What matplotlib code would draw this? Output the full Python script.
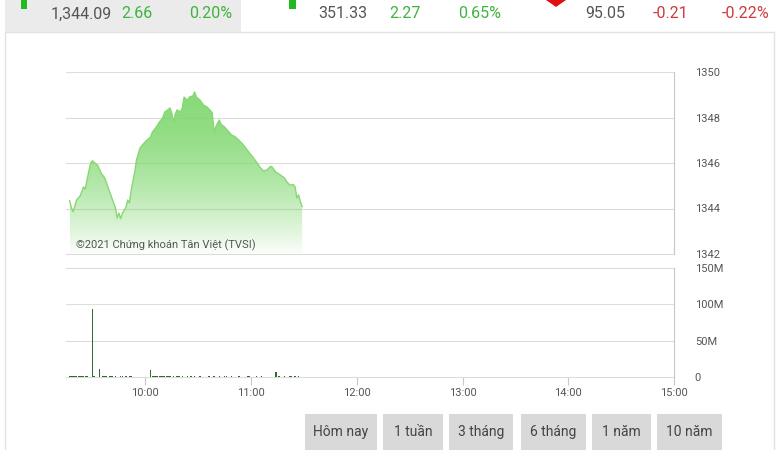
import matplotlib
matplotlib.use("Agg")
import matplotlib.pyplot as plt
import numpy as np
from matplotlib import font_manager
from matplotlib.patches import Rectangle, Polygon

# pick a narrow font if there is one
try:
    font_manager.findfont("Liberation Sans Narrow", fallback_to_default=False)
    NARROW = "Liberation Sans Narrow"
except ValueError:
    NARROW = "Roboto"
plt.rcParams["font.family"] = [NARROW, "DejaVu Sans"]

# index price, morning session
price_times = ["09:17", "09:18", "09:19", "09:20", "09:21", "09:23", "09:25", "09:26", "09:27", "09:29",
               "09:30", "09:32", "09:33", "09:35", "09:37", "09:39", "09:40", "09:42", "09:43", "09:44",
               "09:45", "09:46", "09:47", "09:49", "09:50", "09:51", "09:52", "09:54", "09:55", "09:57",
               "09:59", "10:01", "10:03", "10:04", "10:06", "10:08", "10:10", "10:11", "10:13", "10:14",
               "10:15", "10:16", "10:17", "10:18", "10:20", "10:21", "10:22", "10:24", "10:25", "10:27",
               "10:28", "10:29", "10:31", "10:33", "10:35", "10:37", "10:38", "10:39", "10:40", "10:42",
               "10:43", "10:45", "10:47", "10:49", "10:51", "10:53", "10:55", "10:57", "10:59", "11:01",
               "11:03", "11:05", "11:07", "11:09", "11:11", "11:12", "11:14", "11:15", "11:17", "11:19",
               "11:20", "11:22", "11:24", "11:25", "11:26", "11:27", "11:28", "11:29"]
prices = [1344.35, 1344.05, 1343.86, 1344.10, 1344.37, 1344.55, 1344.95, 1344.85, 1345.30, 1346.00,
          1346.10, 1345.95, 1345.90, 1345.55, 1345.34, 1344.90, 1344.68, 1344.25, 1344.05, 1343.58,
          1343.80, 1343.55, 1343.80, 1344.05, 1344.37, 1344.25, 1344.81, 1345.60, 1346.13, 1346.66,
          1346.85, 1347.01, 1347.15, 1347.36, 1347.55, 1347.80, 1348.00, 1348.24, 1348.35, 1348.42,
          1348.20, 1347.80, 1348.15, 1348.33, 1348.25, 1348.42, 1348.90, 1348.75, 1348.90, 1348.95,
          1349.12, 1348.90, 1348.77, 1348.55, 1348.46, 1348.30, 1348.20, 1347.36, 1347.60, 1347.89,
          1347.70, 1347.58, 1347.40, 1347.23, 1347.15, 1347.01, 1346.85, 1346.66, 1346.45, 1346.26,
          1346.05, 1345.82, 1345.65, 1345.69, 1345.85, 1345.82, 1345.60, 1345.56, 1345.45, 1345.34,
          1345.20, 1345.03, 1345.05, 1344.95, 1344.46, 1344.60, 1344.30, 1344.09]

# volume in millions
vol_times = ["09:17", "09:18", "09:19", "09:20", "09:21", "09:22", "09:23", "09:24", "09:25", "09:26", "09:27",
             "09:30", "09:31", "09:34",
             "09:36", "09:37", "09:38", "09:40", "09:41", "09:43", "09:46", "09:47", "09:49", "09:51", "09:52",
             "10:03",
             "10:04", "10:05", "10:06", "10:07", "10:08", "10:09", "10:10", "10:11", "10:12", "10:13", "10:14",
             "10:16", "10:18", "10:19", "10:21", "10:24", "10:26", "10:28", "10:31", "10:36", "10:39",
             "10:42", "10:45", "10:46", "10:49", "10:53", "10:58", "10:59", "11:03", "11:06",
             "11:14",
             "11:16", "11:19", "11:22", "11:23", "11:25", "11:27"]
volumes = [1.5, 1.5, 1.5, 1.5, 1.5, 1.5, 1.5, 1.5, 1.5, 1.5, 1.5,
           93.5, 2.0, 11.0,
           1.0, 1.0, 1.0, 1.0, 1.0, 1.2, 1.0, 1.0, 1.0, 1.0, 1.0,
           10.0,
           1.2, 1.2, 1.2, 1.2, 1.2, 1.2, 1.2, 1.2, 1.2, 1.2, 1.2,
           1.0, 1.0, 1.0, 1.0, 1.0, 1.0, 1.0, 1.5, 1.5, 1.0,
           1.0, 1.0, 1.0, 1.0, 1.0, 1.0, 1.0, 1.5, 1.5,
           7.2,
           1.0, 1.0, 1.5, 1.0, 1.0, 1.0]

price_ticks = [1342, 1344, 1346, 1348, 1350]
vol_ticks = [0, 50, 100, 150]
vol_labels = ["0", "50M", "100M", "150M"]
hour_labels = ["10:00", "11:00", "12:00", "13:00", "14:00", "15:00"]

# header quotes: (text, centre x, colour)
quotes = [("1,344.09", 81, "#555555"), ("2.66", 137, "#3db53d"), ("0.20%", 211, "#3db53d"),
          ("351.33", 343, "#555555"), ("2.27", 405, "#3db53d"), ("0.65%", 480, "#3db53d"),
          ("95.05", 605, "#555555"), ("-0.21", 671, "#d03a3a"), ("-0.22%", 746, "#d03a3a")]
buttons = ["Hôm nay", "1 tuần", "3 tháng", "6 tháng", "1 năm", "10 năm"]
button_x = [(305, 377), (383, 443), (449, 513), (521, 586), (592, 651), (657, 722)]


def to_min(s):
    h, m = s.split(":")
    return (int(h) - 9) * 60 + int(m)


W, H = 780, 450


def box(x0, y0, x1, y1):
    return [x0 / W, 1 - y1 / H, (x1 - x0) / W, (y1 - y0) / H]


fig = plt.figure(figsize=(7.8, 4.5), dpi=100)

# page background: panel, header strip, icons, buttons
bg = fig.add_axes([0, 0, 1, 1])
bg.set_xlim(0, W)
bg.set_ylim(H, 0)
bg.axis("off")
bg.add_patch(Rectangle((5, 31.5), 769, 440, fc="white", ec="#e2e2e2", lw=1))
bg.add_patch(Rectangle((5, 0), 236, 31.5, fc="#ebebeb", ec="none"))
bg.add_patch(Rectangle((21, -3), 6, 12, fc="#22b922", ec="none"))
bg.add_patch(Rectangle((289, -3), 7, 12, fc="#22b922", ec="none"))
bg.add_patch(Polygon([(546, 0), (566, 0), (556, 7)], closed=True, fc="#e01010", ec="none"))
for txt, cx, col in quotes:
    bg.text(cx, 14, txt, ha="center", va="center", fontsize=11.5, color=col)
for (x0, x1), lab in zip(button_x, buttons):
    bg.add_patch(Rectangle((x0, 414), x1 - x0, 50, fc="#d9d9d9", ec="none"))
    bg.text((x0 + x1) / 2, 432, lab, ha="center", va="center", fontsize=10, color="#444444")

grid_col = "#dcdcdc"
axis_col = "#c4c8cc"
label_col = "#555555"

# price panel
ax = fig.add_axes(box(66, 72, 674, 254))
ax.patch.set_alpha(0)
t = np.array([to_min(s) for s in price_times])
p = np.array(prices)
ax.set_xlim(15, 360)
ax.set_ylim(1342, 1350)

fill = ax.fill_between(t, p, 1342, facecolor="none", edgecolor="none")
s = np.linspace(0, 1, 256)
grad = np.ones((256, 1, 4))
grad[:, 0, 0] = 0.49
grad[:, 0, 1] = 0.84
grad[:, 0, 2] = 0.42
grad[:, 0, 3] = 0.9 * (1 - s ** 2) + 0.02
im = ax.imshow(grad, extent=[t.min(), t.max(), 1342, 1350], aspect="auto", origin="upper", zorder=1)
path = fill.get_paths()[0]
im.set_clip_path(path, transform=ax.transData)
ax.plot(t, p, color="#86d872", lw=1.0, zorder=2)

ax.yaxis.tick_right()
ax.set_yticks(price_ticks)
ax.set_xticks([])
ax.tick_params(axis="y", length=0, pad=15, labelsize=8, labelcolor=label_col)
for side in ["top", "left", "bottom"]:
    ax.spines[side].set_visible(False)
ax.spines["right"].set_color(axis_col)
ax.spines["right"].set_linewidth(0.8)
ax.grid(axis="y", color=grid_col, lw=0.8)
ax.set_axisbelow(True)
for gl in ax.get_ygridlines():
    gl.set_clip_on(False)
ax.text(10 / 608, 3 / 182, "©2021 Chứng khoán Tân Việt (TVSI)", transform=ax.transAxes,
        fontsize=8, color=label_col, family=["Roboto", "DejaVu Sans"], ha="left", va="bottom", zorder=3)

# volume panel
vx = fig.add_axes(box(66, 268, 674, 377))
vx.patch.set_alpha(0)
vx.bar([to_min(s) for s in vol_times], volumes, width=0.9, color="#2e6b2e", linewidth=0)
vx.set_xlim(15, 360)
vx.set_ylim(0, 150)
vx.yaxis.tick_right()
vx.set_yticks(vol_ticks)
vx.set_yticklabels(vol_labels)
vx.set_xticks([to_min(s) for s in hour_labels])
vx.set_xticklabels(hour_labels)
vx.tick_params(axis="y", length=0, pad=15, labelsize=8, labelcolor=label_col)
vx.tick_params(axis="x", length=6, width=0.8, color=axis_col, pad=2, labelsize=8, labelcolor=label_col)
for side in ["top", "left", "bottom"]:
    vx.spines[side].set_visible(False)
vx.spines["right"].set_color(axis_col)
vx.spines["right"].set_linewidth(0.8)
vx.grid(axis="y", color=grid_col, lw=0.8)
vx.set_axisbelow(True)
for gl in vx.get_ygridlines():
    gl.set_clip_on(False)

fig.savefig("out.png", dpi=100)
